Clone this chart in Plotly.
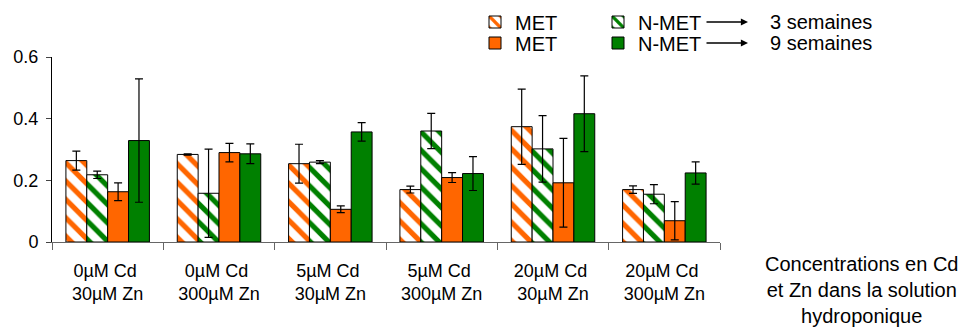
import plotly.graph_objects as go

NB = "\u00a0"
categories = [
    "0µM Cd" + NB + "<br>30µM Zn",
    "0µM Cd" + NB + "<br>300µM Zn",
    "5µM Cd" + NB + "<br>30µM Zn",
    "5µM Cd" + NB + "<br>300µM Zn",
    "20µM Cd" + NB + "<br>30µM Zn",
    "20µM Cd" + NB + "<br>300µM Zn",
]

met_3 = [0.264, 0.284, 0.254, 0.170, 0.374, 0.170]
met_3_err = [0.031, 0.002, 0.063, 0.011, 0.122, 0.012]
nmet_3 = [0.218, 0.158, 0.259, 0.360, 0.302, 0.155]
nmet_3_err = [0.012, 0.143, 0.005, 0.057, 0.108, 0.031]
met_9 = [0.163, 0.290, 0.106, 0.209, 0.192, 0.069]
met_9_err = [0.029, 0.030, 0.011, 0.016, 0.144, 0.062]
nmet_9 = [0.329, 0.286, 0.357, 0.222, 0.416, 0.224]
nmet_9_err = [0.200, 0.032, 0.030, 0.055, 0.123, 0.036]

y_ticks = [0, 0.2, 0.4, 0.6]
y_tick_labels = ["0", "0.2", "0.4", "0.6"]

ORANGE = "#FF6600"
GREEN = "#008000"
FONT = "Liberation Sans, Arial, sans-serif"

# The page body adds an 8px margin; the figure is sized to fill the rest.
OFF = 8
W, H = 968 - OFF, 328 - OFF
# plot area in screen pixels: x 52..720, y 57..242
L = 52 - OFF
T = 57 - OFF
R = 968 - 720
B = 328 - 242
PW = W - L - R
PH = H - T - B


def px_x(px):
    """screen x pixel -> paper x"""
    return (px - OFF - L) / PW


def px_y(py):
    """screen y pixel -> paper y"""
    return (H - B - (py - OFF)) / PH


def cx(px):
    return (px - OFF) / W


def cy(py):
    return 1 - (py - OFF) / H


def err(a):
    return dict(type="data", array=a, color="black", thickness=1.2, width=4)


fig = go.Figure()
fig.add_trace(go.Bar(
    x=categories, y=met_3, name="MET", legend="legend",
    marker=dict(color="white", line=dict(color="black", width=1),
                pattern=dict(shape="\\", fgcolor=ORANGE, bgcolor="white",
                             size=13, solidity=0.4, fillmode="replace")),
    error_y=err(met_3_err)))
fig.add_trace(go.Bar(
    x=categories, y=nmet_3, name="N-MET", legend="legend",
    marker=dict(color="white", line=dict(color="black", width=1),
                pattern=dict(shape="\\", fgcolor=GREEN, bgcolor="white",
                             size=13, solidity=0.4, fillmode="replace")),
    error_y=err(nmet_3_err)))
fig.add_trace(go.Bar(
    x=categories, y=met_9, name="MET", legend="legend2",
    marker=dict(color=ORANGE, line=dict(color="black", width=1)),
    error_y=err(met_9_err)))
fig.add_trace(go.Bar(
    x=categories, y=nmet_9, name="N-MET", legend="legend2",
    marker=dict(color=GREEN, line=dict(color="black", width=1)),
    error_y=err(nmet_9_err)))

legend_common = dict(
    orientation="h", xanchor="left", yanchor="middle",
    xref="container", yref="container",
    entrywidth=78, entrywidthmode="pixels",
    font=dict(family=FONT, size=20, color="black"),
    bgcolor="rgba(0,0,0,0)", borderwidth=0, itemclick=False,
    tracegroupgap=0,
)

annotations = []
for py, label in [(22, "3 semaines"), (43, "9 semaines")]:
    annotations.append(dict(
        x=px_x(748), y=px_y(py), xref="paper", yref="paper",
        ax=-43, ay=0, axref="pixel", ayref="pixel",
        text="", showarrow=True, arrowhead=2, arrowsize=1.1,
        arrowwidth=1.3, arrowcolor="black", standoff=0, startstandoff=0))
    annotations.append(dict(
        x=px_x(768), y=px_y(py), xref="paper", yref="paper",
        xanchor="left", yanchor="middle", text=label, showarrow=False,
        font=dict(family=FONT, size=20, color="black")))

annotations.append(dict(
    x=px_x(861), y=px_y(290), xref="paper", yref="paper",
    xanchor="center", yanchor="middle",
    text="Concentrations en Cd<br>et Zn dans la solution<br>hydroponique",
    showarrow=False, align="center",
    font=dict(family=FONT, size=20, color="black")))

fig.update_layout(
    width=W, height=H,
    margin=dict(l=L, r=R, t=T, b=B, pad=0, autoexpand=False),
    paper_bgcolor="white", plot_bgcolor="white",
    barmode="group", bargap=0.25, bargroupgap=0,
    font=dict(family=FONT, color="black"),
    showlegend=True,
    legend=dict(x=cx(475), y=cy(22), **legend_common),
    legend2=dict(x=cx(475), y=cy(43), **legend_common),
    annotations=annotations,
    xaxis=dict(
        type="category", showgrid=False, zeroline=False, automargin=False,
        showline=True, linecolor="#666", linewidth=1,
        ticks="outside", tickson="boundaries", ticklen=7,
        ticklabelstandoff=12,
        tickcolor="#666", tickfont=dict(family=FONT, size=18, color="black"),
        fixedrange=True),
    yaxis=dict(
        range=[0, 0.6], showgrid=False, zeroline=False, automargin=False,
        showline=True, linecolor="black", linewidth=1,
        ticks="outside", ticklen=5, tickcolor="#444",
        ticklabelstandoff=4,
        tickvals=y_ticks, ticktext=y_tick_labels,
        tickfont=dict(family=FONT, size=18, color="black"),
        fixedrange=True),
)

fig.write_html("out.html")
